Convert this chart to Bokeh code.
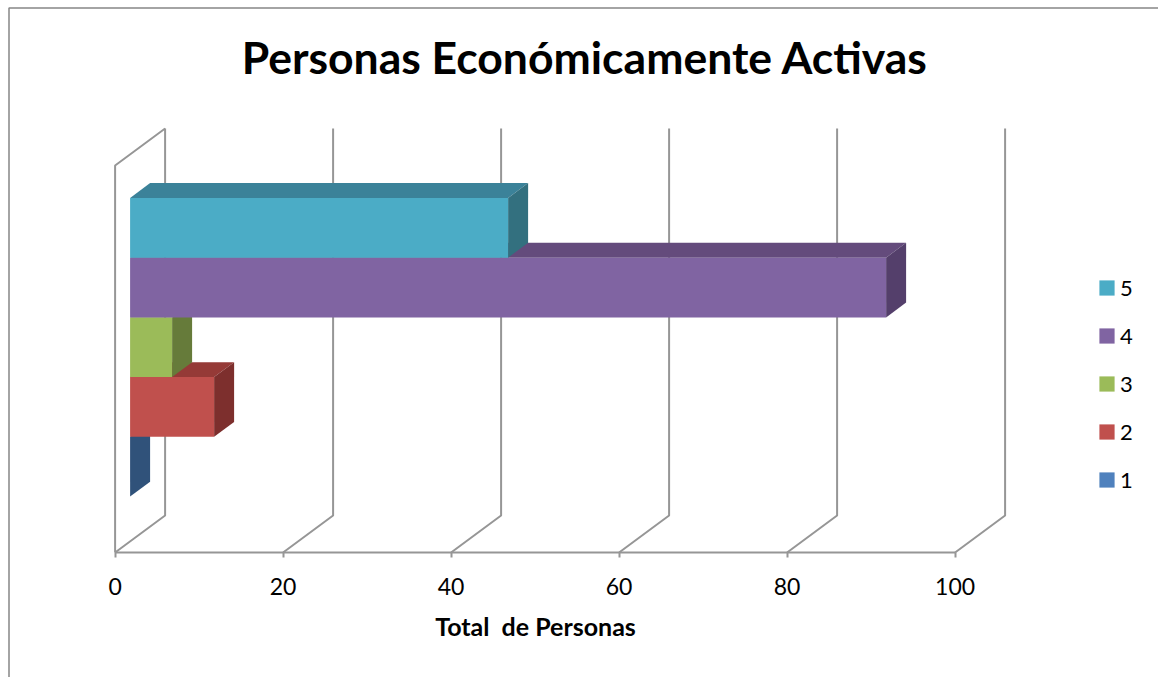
from bokeh.plotting import figure
from bokeh.models import Range1d, LinearAxis, FixedTicker, Legend, LegendItem, Label
from bokeh.core.properties import value
from bokeh.embed import file_html
from bokeh.resources import INLINE

# --- data ---
series = ["1", "2", "3", "4", "5"]
totals = [0, 10, 5, 90, 45]
front_colors = ["#4F81BD", "#C0504D", "#9BBB59", "#8064A2", "#4BACC6"]
top_colors = ["#3A5F8C", "#953A37", "#7A9340", "#644B7C", "#3B8299"]
side_colors = ["#30527A", "#7D2F2D", "#667B3A", "#543F6B", "#33707F"]
x_ticks = [0, 20, 40, 60, 80, 100]
title_text = "Personas Económicamente Activas"
x_title = "Total \u00a0de Personas"

# --- layout / projection ---
W, H = 1158, 677
PX_X, PX_Y = 8.40, 59.74           # pixels per data unit
X0_PAGE, Y0_PAGE = 114.6, 552.0    # page pixel of the origin
DX, DY = 50 / PX_X, 37 / PX_Y      # full 3-D depth of the walls
WALL_TOP = 387 / PX_Y
GAP = 0.75
GRID = "#969696"
FONT = "Lato"

x_range = Range1d(-X0_PAGE / PX_X, (W - X0_PAGE) / PX_X)
y_range = Range1d((Y0_PAGE - H) / PX_Y, Y0_PAGE / PX_Y)

p = figure(width=W, height=H, x_range=x_range, y_range=y_range,
           output_backend="svg", toolbar_location=None,
           x_axis_type=None, y_axis_type=None,
           min_border=0, min_border_left=0, min_border_right=0,
           min_border_top=0, min_border_bottom=0, outline_line_color=None)
p.grid.visible = False
p.background_fill_color = "white"
p.border_fill_color = "white"

# chart-area outline (left and top only, as cropped in the reference)
x_left = (8.5 - X0_PAGE) / PX_X
y_top = (Y0_PAGE - 7.5) / PX_Y
p.line([x_left, x_left, x_range.end], [y_range.start, y_top, y_top],
       line_color="#868686", line_width=1.5)

# walls
xs, ys = [], []
for t in x_ticks:
    xs.append([t, t + DX, t + DX])
    ys.append([0, DY, DY + WALL_TOP])
xs.append([0, 0, DX])
ys.append([0, WALL_TOP, WALL_TOP + DY])
p.multi_line(xs, ys, line_color=GRID, line_width=2)

# bars, 3-D faces
legend_items = []
x0 = 0.3 * DX
d_x, d_y = 0.4 * DX, 0.4 * DY
for i, (name, v) in enumerate(zip(series, totals)):
    yb = GAP + 0.3 * DY + i
    yt = yb + 1
    x1 = x0 + v
    p.patch([x0, x1, x1 + d_x, x0 + d_x], [yt, yt, yt + d_y, yt + d_y],
            fill_color=top_colors[i], line_color=None)
    p.patch([x1, x1, x1 + d_x, x1 + d_x], [yb, yt, yt + d_y, yb + d_y],
            fill_color=side_colors[i], line_color=None)
    r = p.quad(left=[x0], right=[x1], bottom=[yb], top=[yt],
               fill_color=front_colors[i], line_color=None)
    legend_items.append(LegendItem(label=value(name), renderers=[r]))

# axis
ax = LinearAxis(ticker=FixedTicker(ticks=x_ticks), bounds=(0, 100), fixed_location=0,
                axis_line_color=GRID, axis_line_width=2,
                major_tick_line_color=GRID, major_tick_line_width=2,
                major_tick_in=0, major_tick_out=5, minor_tick_line_color=None,
                major_label_text_font=FONT, major_label_text_font_size="23px",
                major_label_text_color="black", major_label_standoff=20,
                axis_label=x_title, axis_label_text_font=FONT,
                axis_label_text_font_style="bold", axis_label_text_font_size="25px",
                axis_label_text_color="black", axis_label_standoff=13)
p.add_layout(ax, "below")

# title
p.add_layout(Label(x=(584.5 - X0_PAGE) / PX_X, y=(Y0_PAGE - 56) / PX_Y, text=title_text,
                   text_font=FONT, text_font_style="bold", text_font_size="44.5px",
                   text_color="black", text_align="center", text_baseline="alphabetic"))

# legend
legend = Legend(items=legend_items[::-1], location=(1097, 184), orientation="vertical",
                border_line_color=None, background_fill_color=None, background_fill_alpha=0,
                glyph_width=19, glyph_height=19, label_standoff=4, spacing=21,
                padding=0, margin=0, label_text_font=FONT, label_text_font_size="22px",
                label_text_color="black")
p.add_layout(legend, "center")

open("out.html", "w").write(file_html(p, INLINE))
